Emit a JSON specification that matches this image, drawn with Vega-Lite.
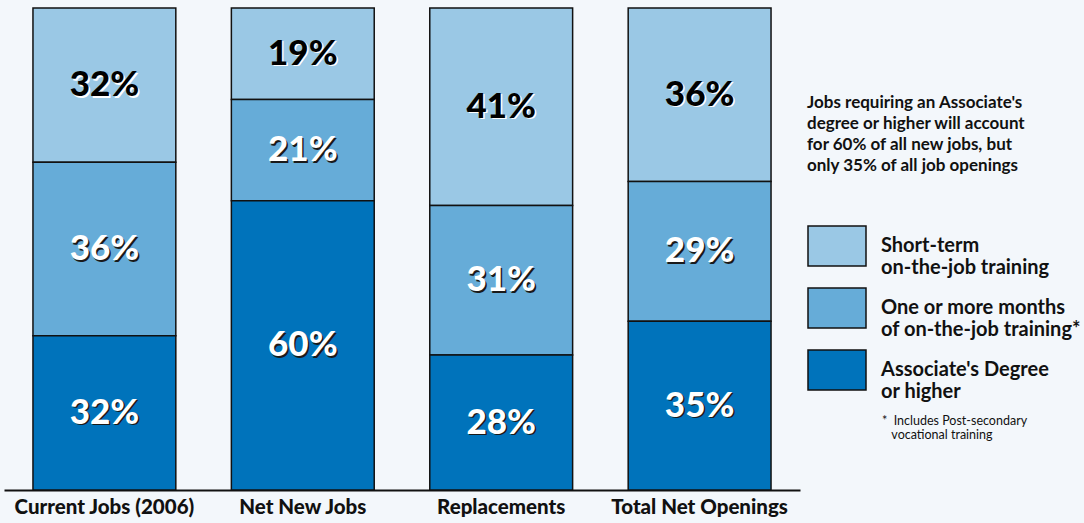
{
  "$schema": "https://vega.github.io/schema/vega-lite/v6.json",
  "width": 796,
  "height": 482,
  "autosize": "none",
  "padding": {"left": 4, "top": 8, "right": 284, "bottom": 33},
  "background": "#f3f7fb",
  "title": {
    "text": ["Jobs requiring an Associate's", "degree or higher will account", "for 60% of all new jobs, but", "only 35% of all job openings"],
    "subtitle": ["\u200b\u2003\u2003\u2003\u2003\u2003\u2003\u2003\u2003*\u00a0\u00a0Includes Post-secondary", "\u200b\u2003\u2003\u2003\u2003\u2003\u2003\u2003\u2003\u2003vocational training"],
    "orient": "bottom",
    "anchor": "start",
    "frame": "group",
    "baseline": "top",
    "offset": 0,
    "dx": 803,
    "dy": -423,
    "font": "Lato",
    "fontSize": 17,
    "fontWeight": "bold",
    "color": "#111111",
    "lineHeight": 21.3,
    "subtitleFont": "Lato",
    "subtitleFontSize": 12.5,
    "subtitleColor": "#111111",
    "subtitleLineHeight": 14,
    "subtitlePadding": 240
  },
  "data": {
    "values": [
      {"group": "Current Jobs (2006)", "category": "Short-term on-the-job training", "value": 32},
      {"group": "Current Jobs (2006)", "category": "One or more months of on-the-job training*", "value": 36},
      {"group": "Current Jobs (2006)", "category": "Associate's Degree or higher", "value": 32},
      {"group": "Net New Jobs", "category": "Short-term on-the-job training", "value": 19},
      {"group": "Net New Jobs", "category": "One or more months of on-the-job training*", "value": 21},
      {"group": "Net New Jobs", "category": "Associate's Degree or higher", "value": 60},
      {"group": "Replacements", "category": "Short-term on-the-job training", "value": 41},
      {"group": "Replacements", "category": "One or more months of on-the-job training*", "value": 31},
      {"group": "Replacements", "category": "Associate's Degree or higher", "value": 28},
      {"group": "Total Net Openings", "category": "Short-term on-the-job training", "value": 36},
      {"group": "Total Net Openings", "category": "One or more months of on-the-job training*", "value": 29},
      {"group": "Total Net Openings", "category": "Associate's Degree or higher", "value": 35}
    ]
  },
  "transform": [
    {"stack": "value", "groupby": ["group"], "sort": [{"field": "category", "order": "ascending"}], "as": ["y0", "y1"]},
    {"calculate": "(datum.y0 + datum.y1) / 2", "as": "mid"},
    {"calculate": "datum.value + '%'", "as": "label"}
  ],
  "encoding": {
    "x": {
      "field": "group",
      "type": "nominal",
      "sort": null,
      "scale": {"paddingInner": 0.28, "paddingOuter": 0.146},
      "axis": {
        "title": null,
        "labelAngle": 0,
        "ticks": false,
        "domainColor": "#111111",
        "domainWidth": 2,
        "labelFont": "Lato",
        "labelFontSize": 20.5,
        "labelFontWeight": 900,
        "labelColor": "#111111",
        "labelPadding": 7,
        "labelBaseline": "top",
        "labelLimit": 300,
        "labelOverlap": false
      }
    }
  },
  "layer": [
    {
      "mark": {"type": "bar", "stroke": "#111111", "strokeWidth": 1.5},
      "encoding": {
        "y": {"field": "y1", "type": "quantitative", "scale": {"domain": [0, 100], "nice": false}, "axis": null},
        "y2": {"field": "y0"},
        "color": {
          "field": "category",
          "type": "nominal",
          "scale": {
            "domain": ["Short-term on-the-job training", "One or more months of on-the-job training*", "Associate's Degree or higher"],
            "range": ["#9ac8e5", "#66acd8", "#0073bb"]
          },
          "legend": {
            "title": null,
            "orient": "none",
            "legendX": 803,
            "legendY": 208,
            "padding": 0,
            "symbolType": "M-1,-0.69H1V0.69H-1Z",
            "symbolSize": 3364,
            "symbolStrokeColor": "#111111",
            "symbolStrokeWidth": 1.5,
            "symbolOpacity": 1,
            "labelOffset": 14,
            "rowPadding": 0,
            "labelFont": "Lato",
            "labelFontSize": 20,
            "labelFontWeight": "bold",
            "labelColor": "#111111",
            "labelLimit": 400,
            "labelExpr": "datum.label === 'Short-term on-the-job training' ? ['Short-term', 'on-the-job training'] : datum.label === 'Associate\\'s Degree or higher' ? ['Associate\\'s Degree', 'or higher'] : ['One or more months', 'of on-the-job training*']"
          }
        }
      }
    },
    {
      "mark": {"type": "text", "font": "Lato", "fontSize": 35, "fontWeight": 900, "dx": 1.5, "dy": 1.5, "baseline": "middle"},
      "encoding": {
        "y": {"field": "mid", "type": "quantitative"},
        "text": {"field": "label"},
        "color": {"condition": {"test": "datum.category === 'Short-term on-the-job training'", "value": "#ffffff"}, "value": "#1a1a1a"}
      }
    },
    {
      "mark": {"type": "text", "font": "Lato", "fontSize": 35, "fontWeight": 900, "baseline": "middle"},
      "encoding": {
        "y": {"field": "mid", "type": "quantitative"},
        "text": {"field": "label"},
        "color": {"condition": {"test": "datum.category === 'Short-term on-the-job training'", "value": "#000000"}, "value": "#ffffff"}
      }
    }
  ],
  "config": {
    "view": {"stroke": null},
    "axis": {"grid": false}
  }
}
